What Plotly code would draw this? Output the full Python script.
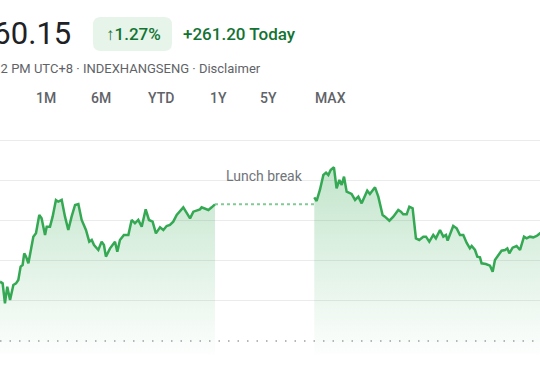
import plotly.graph_objects as go

# ---------------- data ----------------
prev_close = 20498.95
last_price = 20760.15
change_abs = 261.20
change_pct = 1.27

# minutes after 09:30 open, and index level
am_minutes = [19.7, 21.3, 22.7, 24.1, 25.8, 27.8, 29.4, 30.8, 32.2, 33.4, 34.4, 35.5, 36.9, 38.3,
              39.9, 41.5, 43.5, 44.9, 47.0, 48.0, 50.0, 51.6, 53.6, 55.1, 57.1, 59.1, 61.1, 63.1,
              65.2, 67.2, 69.2, 71.8, 73.8, 75.3, 76.7, 79.3, 81.3, 82.7, 83.9, 86.4, 89.4, 90.8,
              92.4, 94.8, 97.5, 99.5, 101.5, 103.5, 105.6, 108.0, 110.0, 112.2, 114.2, 116.7,
              118.7, 120.7, 122.7, 124.7, 126.8, 130.8, 132.8, 134.9, 136.9, 138.9, 140.9, 141.9,
              143.9, 146.0, 148.0, 150.0]
am_prices = [20647.3, 20643.1, 20593.1, 20634.8, 20601.5, 20639.0, 20643.1, 20651.5, 20684.8,
             20689.0, 20718.1, 20709.8, 20693.1, 20726.5, 20759.8, 20768.1, 20814.0, 20805.6,
             20764.0, 20784.8, 20784.8, 20809.8, 20851.5, 20847.3, 20851.5, 20809.8, 20776.5,
             20809.8, 20839.0, 20841.5, 20801.5, 20776.5, 20747.3, 20751.5, 20739.0, 20726.5,
             20747.3, 20739.0, 20709.8, 20730.6, 20747.3, 20722.3, 20751.5, 20764.0, 20764.0,
             20801.5, 20793.1, 20801.5, 20784.8, 20828.1, 20801.5, 20797.3, 20768.1, 20783.1,
             20776.5, 20786.5, 20789.0, 20797.3, 20814.0, 20833.1, 20819.8, 20805.6, 20822.3,
             20824.8, 20828.1, 20833.1, 20830.6, 20826.5, 20833.1, 20840.6]

pm_minutes = [210.2, 211.6, 213.6, 215.7, 217.3, 218.7, 220.1, 222.1, 223.7, 225.4, 226.8, 228.2,
              229.8, 232.8, 234.9, 236.9, 238.9, 240.9, 242.3, 243.9, 247.0, 249.0, 251.6, 253.0,
              255.7, 258.1, 261.1, 262.7, 264.1, 266.2, 267.8, 269.8, 271.8, 273.8, 276.3, 277.9,
              279.9, 282.3, 283.9, 286.4, 288.4, 290.0, 291.0, 294.4, 296.5, 298.5, 300.5, 302.5,
              304.5, 305.6, 307.6, 309.0, 310.6, 311.6, 314.2, 316.7, 318.3, 319.7, 321.7, 323.7,
              325.8, 327.2, 328.4, 330.4, 332.8, 334.9, 337.3, 338.9, 340.9, 342.9, 345.0, 347.0,
              390.0]
pm_prices = [20858.1, 20849.0, 20876.5, 20914.0, 20919.8, 20914.0, 20926.5, 20933.1, 20880.6,
             20901.5, 20889.0, 20909.8, 20872.3, 20866.5, 20851.5, 20859.8, 20843.1, 20864.0,
             20874.8, 20866.5, 20883.1, 20859.8, 20814.0, 20809.8, 20799.8, 20809.8, 20826.5,
             20822.3, 20815.6, 20815.6, 20834.8, 20830.6, 20755.6, 20751.5, 20759.8, 20759.8,
             20747.3, 20764.0, 20755.6, 20776.5, 20759.8, 20764.0, 20749.8, 20786.5, 20780.6,
             20764.0, 20764.0, 20744.8, 20730.6, 20736.5, 20726.5, 20709.8, 20708.1, 20693.1,
             20691.5, 20687.3, 20672.3, 20701.5, 20714.0, 20724.8, 20726.5, 20730.6, 20718.1,
             20732.3, 20736.5, 20726.5, 20759.8, 20755.6, 20759.8, 20758.1, 20761.5, 20768.1,
             20760.15]

lunch_minutes = [150.0, 210.0]
grid_levels = [20600, 20700, 20800, 20900, 21000]
tab_labels = ["5D", "1M", "6M", "YTD", "1Y", "5Y", "MAX"]

# ---------------- layout helpers ----------------
W, H = 540, 370
PT, PB = 130, 355          # plot top / bottom in pixels
X_RANGE = [19.7, 347.0]
Y_RANGE = [20463.95, 21026.45]


def px(x):
    return x / W


def py(y):
    return (PB - y) / (PB - PT)


GREEN = "#34a853"
fig = go.Figure()

grad = dict(type="vertical",
            colorscale=[[0, "rgba(52,168,83,0)"], [1, "rgba(52,168,83,0.30)"]],
            start=20450, stop=20935)

fig.add_trace(go.Scatter(x=am_minutes, y=am_prices, mode="lines",
                         line=dict(color=GREEN, width=2.5), fill="tozeroy",
                         fillgradient=grad, hoverinfo="skip", showlegend=False))
fig.add_trace(go.Scatter(x=pm_minutes, y=pm_prices, mode="lines",
                         line=dict(color=GREEN, width=2.5), fill="tozeroy",
                         fillgradient=grad, hoverinfo="skip", showlegend=False))
fig.add_trace(go.Scatter(x=lunch_minutes, y=[am_prices[-1]] * 2, mode="lines",
                         line=dict(color="#81c995", width=2, dash="3px,3px"),
                         hoverinfo="skip", showlegend=False))

# previous close dotted line
fig.add_shape(type="line", xref="paper", x0=0, x1=1, yref="y", y0=prev_close, y1=prev_close,
              line=dict(color="#9aa0a6", width=1.5, dash="1.5px,8px"), layer="above")

# badge
bx0, bx1, by0, by1, r = 93, 172, 17, 51, 8
path = (f"M {px(bx0 + r)} {py(by0)} L {px(bx1 - r)} {py(by0)} "
        f"Q {px(bx1)} {py(by0)} {px(bx1)} {py(by0 + r)} L {px(bx1)} {py(by1 - r)} "
        f"Q {px(bx1)} {py(by1)} {px(bx1 - r)} {py(by1)} L {px(bx0 + r)} {py(by1)} "
        f"Q {px(bx0)} {py(by1)} {px(bx0)} {py(by1 - r)} L {px(bx0)} {py(by0 + r)} "
        f"Q {px(bx0)} {py(by0)} {px(bx0 + r)} {py(by0)} Z")
fig.add_shape(type="path", xref="paper", yref="paper", path=path,
              fillcolor="#e6f4ea", line=dict(width=0), layer="below")

FONT = "Roboto, Arial, sans-serif"
ann = []
ann.append(dict(text=f"{last_price:,.2f}", x=px(73), y=py(34), xanchor="right", yanchor="middle",
                font=dict(family=FONT, size=31, color="#202124")))
ann.append(dict(text=f"↑{change_pct:.2f}%", x=px(133.5), y=py(34), xanchor="center", yanchor="middle",
                font=dict(family=FONT, size=17, color="#137333", weight=500)))
ann.append(dict(text=f"+{change_abs:.2f} Today", x=px(181), y=py(34), xanchor="left", yanchor="middle",
                font=dict(family=FONT, size=17, color="#137333", weight=500)))
ann.append(dict(text="Closed: Nov 22, 4:12 PM UTC+8 · INDEXHANGSENG · Disclaimer",
                x=px(263), y=py(68), xanchor="right", yanchor="middle",
                font=dict(family=FONT, size=13, color="#5f6368")))
tab_centers = [-10, 45.5, 100.5, 161, 218.7, 268.7, 330]
for lab, cx in zip(tab_labels, tab_centers):
    ann.append(dict(text=lab, x=px(cx), y=py(98), xanchor="center", yanchor="middle",
                    font=dict(family=FONT, size=14, color="#5f6368", weight=500)))
ann.append(dict(text="Lunch break", x=180, xref="x", y=py(176), xanchor="center", yanchor="middle",
                font=dict(family=FONT, size=14, color="#70757a")))

for a in ann:
    a.setdefault("xref", "paper")
    a.setdefault("yref", "paper")
    a["showarrow"] = False
    fig.add_annotation(**a)

fig.update_layout(
    width=W, height=H, autosize=False,
    margin=dict(l=0, r=0, t=PT, b=H - PB, pad=0),
    paper_bgcolor="white", plot_bgcolor="white",
    xaxis=dict(range=X_RANGE, showgrid=False, zeroline=False, showticklabels=False,
               ticks="", showline=False, fixedrange=True),
    yaxis=dict(range=Y_RANGE, tickvals=grid_levels, showgrid=True, gridcolor="#ebebeb",
               gridwidth=1, zeroline=False, showticklabels=False, ticks="", showline=False,
               fixedrange=True),
    showlegend=False,
)

fig.write_html("out.html",
               config={"displayModeBar": False, "staticPlot": True},
               post_script="document.body.style.margin='0';document.body.style.overflow='hidden';")
